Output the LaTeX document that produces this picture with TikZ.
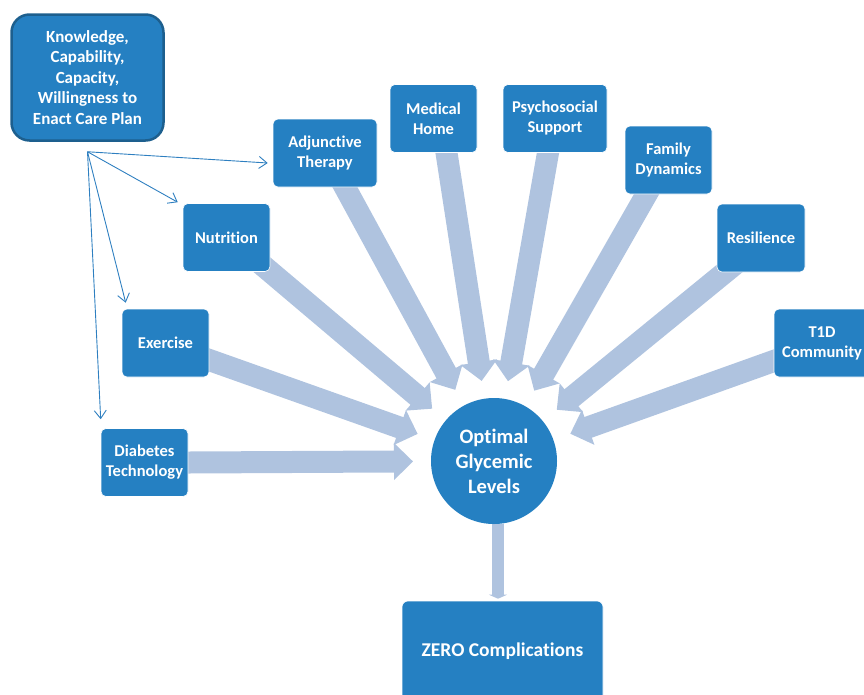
\documentclass[tikz,border=0pt]{standalone}
\usepackage{fontspec}
\setmainfont{Carlito}[Ligatures=NoCommon]
\usetikzlibrary{arrows.meta,calc,backgrounds}

\definecolor{boxblue}{HTML}{2580C2}
\definecolor{darkedge}{HTML}{1D5F8E}
\definecolor{arrowblue}{HTML}{AFC3DF}
\definecolor{linkblue}{HTML}{2E7FC0}

\begin{document}
\begin{tikzpicture}[x=1pt,y=-1pt,>=latex]
  \tikzstyle{factor} = [draw=white, line width=0.6pt, fill=boxblue, rectangle, rounded corners=5pt, inner sep=0pt, minimum height=68pt, text=white, align=center, font={\fontsize{16.5}{20}\selectfont\bfseries}]
  \tikzstyle{source} = [factor, draw=darkedge, line width=2.5pt, rounded corners=18pt, minimum width=152pt, minimum height=126pt, font={\fontsize{17}{20.5}\selectfont\bfseries}]
  \tikzstyle{goal} = [circle, fill=boxblue, inner sep=0pt, minimum size=126pt, text=white, align=center, font={\fontsize{20.5}{25}\selectfont\bfseries}]
  \tikzstyle{outcome} = [factor, rounded corners=6pt, minimum width=201pt, minimum height=100pt, font={\fontsize{19.5}{23}\selectfont\bfseries}]

  \tikzstyle{feed} = [draw=arrowblue, line width=22pt, -{Triangle[length=19pt,width=36pt]}];
  \tikzstyle{link} = [draw=linkblue, line width=0.9pt, -{Straight Barb[length=8pt,width=12pt]}];

  \useasboundingbox (0,0) rectangle (864,694);

  % boxes
  \node[source] (know) at (87.5,77.5) {Knowledge,\\Capability,\\Capacity,\\Willingness to\\Enact Care Plan};
  \node[factor, minimum width=104pt] (adj)  at (325,153)     {Adjunctive\\Therapy};
  \node[factor, minimum width=87pt]  (med)  at (433.5,118.5) {Medical\\Home};
  \node[factor, minimum width=104pt] (psy)  at (555,118.5)   {Psychosocial\\Support};
  \node[factor, minimum width=87pt]  (fam)  at (668.5,160)   {Family\\Dynamics};
  \node[factor, minimum width=88pt]  (res)  at (761,238)     {Resilience};
  \node[factor, minimum width=96pt]  (tod)  at (822,343)     {T1D\\Community};
  \node[factor, minimum width=87pt]  (nut)  at (226.5,237.5) {Nutrition};
  \node[factor, minimum width=87pt]  (ex)   at (165.5,343)   {Exercise};
  \node[factor, minimum width=87pt]  (diab) at (144.5,462.5) {Diabetes\\Technology};

  \node[goal] (glyc) at (494,461) {Optimal\\Glycemic\\Levels};
  \node[outcome] (zero) at (502.5,651) {ZERO Complications};

  % where the wide arrows leave the boxes
  \coordinate (sDiab) at (diab.east);
  \coordinate (sEx)   at ([yshift=-17pt]ex.east);
  \coordinate (sNut)  at (nut.south east);
  \coordinate (sAdj)  at ([xshift=20pt]adj.south);
  \coordinate (sMed)  at ([xshift=13pt]med.south);
  \coordinate (sPsy)  at ([xshift=-7pt]psy.south);
  \coordinate (sFam)  at ([xshift=-22pt]fam.south);
  \coordinate (sRes)  at ([xshift=-36pt]res.south);
  \coordinate (sTod)  at ([yshift=-18pt]tod.west);

  \begin{scope}[on background layer]
    \foreach \s in {sDiab,sEx,sNut,sAdj,sMed,sPsy,sFam,sRes,sTod}
      \draw[feed] ($(\s)!-14pt!(glyc.center)$) -- ($(glyc.center)!81pt!(\s)$);
    \draw[feed, line width=12pt, -{Triangle[length=4pt,width=18pt]}, shorten >=2pt]
      ([xshift=4pt]glyc.south) -- ([xshift=-4.5pt]zero.north);
  \end{scope}

  % thin arrows from the care plan box
  \coordinate (hub) at ([yshift=-10pt]know.south);
  \draw[link] (hub) -- ([shift={(-5pt,-10pt)}]adj.west);
  \draw[link] (hub) -- ([shift={(-5pt,1pt)}]nut.north west);
  \draw[link] (hub) -- ([shift={(4pt,6pt)}]ex.north west);
  \draw[link] (hub) -- ([shift={(0pt,9pt)}]diab.north west);
\end{tikzpicture}
\end{document}
